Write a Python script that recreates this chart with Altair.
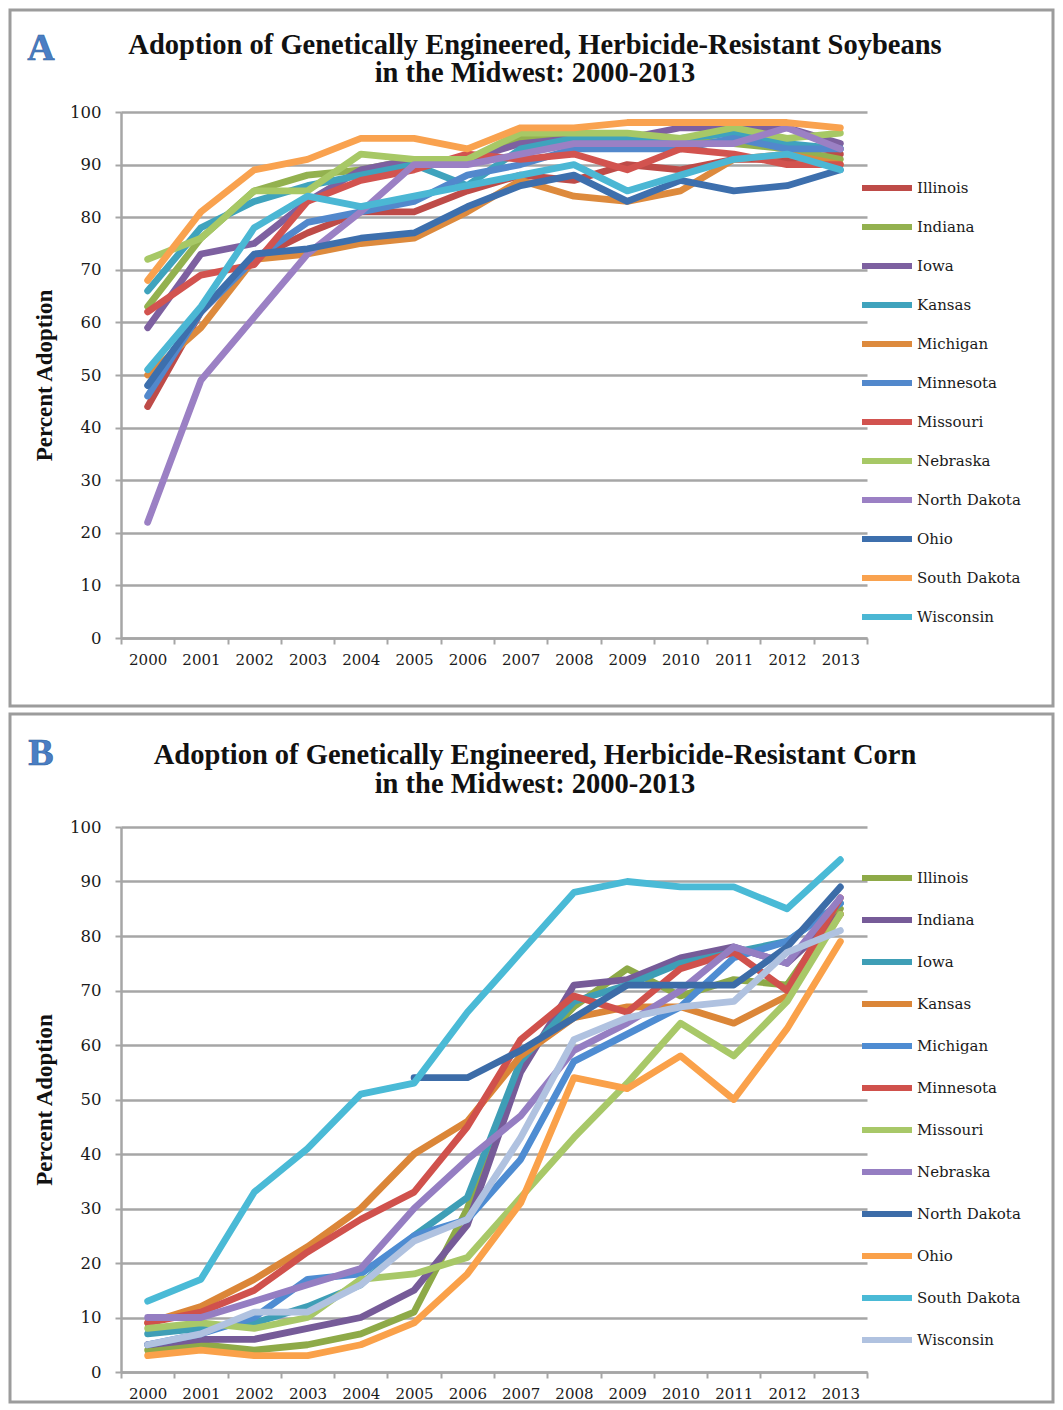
import altair as alt
import pandas as pd

YEARS = list(range(2000, 2014))
Y_TICKS = list(range(0, 101, 10))

# ---------- Panel A: soybeans ----------
STATES_A = ["Illinois", "Indiana", "Iowa", "Kansas", "Michigan", "Minnesota",
            "Missouri", "Nebraska", "North Dakota", "Ohio", "South Dakota", "Wisconsin"]
soy_illinois = [44, 62, 72, 77, 81, 81, 85, 88, 87, 90, 89, 91, 91, 92]
soy_indiana = [63, 76, 85, 88, 89, 91, 91, 95, 96, 95, 95, 94, 93, 91]
soy_iowa = [59, 73, 75, 83, 89, 91, 91, 94, 95, 95, 97, 97, 97, 94]
soy_kansas = [66, 78, 83, 86, 88, 90, 86, 93, 95, 95, 95, 96, 94, 93]
soy_michigan = [50, 59, 72, 73, 75, 76, 81, 87, 84, 83, 85, 91, 92, 90]
soy_minnesota = [46, 62, 72, 79, 81, 83, 88, 90, 93, 93, 93, 95, 93, 93]
soy_missouri = [62, 69, 71, 83, 87, 89, 92, 91, 92, 89, 93, 92, 90, 90]
soy_nebraska = [72, 76, 85, 85, 92, 91, 91, 96, 96, 96, 95, 97, 95, 96]
soy_north_dakota = [22, 49, 61, 73, 81, 90, 90, 92, 94, 94, 94, 94, 97, 93]
soy_ohio = [48, 62, 73, 74, 76, 77, 82, 86, 88, 83, 87, 85, 86, 89]
soy_south_dakota = [68, 81, 89, 91, 95, 95, 93, 97, 97, 98, 98, 98, 98, 97]
soy_wisconsin = [51, 63, 78, 84, 82, 84, 86, 88, 90, 85, 88, 91, 92, 89]
SOY = [soy_illinois, soy_indiana, soy_iowa, soy_kansas, soy_michigan, soy_minnesota,
       soy_missouri, soy_nebraska, soy_north_dakota, soy_ohio, soy_south_dakota, soy_wisconsin]
COLORS_A = ["#BE4B48", "#93B14F", "#7D60A0", "#3FA3BD", "#DD8A3D", "#5288CC",
            "#D2534F", "#A7C866", "#9B80C4", "#3D6FAD", "#F9A24F", "#4BB7D4"]

# ---------- Panel B: corn ----------
STATES_B = STATES_A
corn_illinois = [4, 5, 4, 5, 7, 11, 30, 57, 67, 74, 69, 72, 71, 85]
corn_indiana = [5, 6, 6, 8, 10, 15, 27, 55, 71, 72, 76, 78, 75, 84]
corn_iowa = [7, 8, 9, 12, 16, 25, 32, 57, 68, 71, 75, 77, 79, 86]
corn_kansas = [9, 12, 17, 23, 30, 40, 46, 58, 65, 67, 67, 64, 69, 84]
corn_michigan = [5, 7, 10, 17, 18, 25, 28, 39, 57, 62, 67, 76, 79, 86]
corn_minnesota = [9, 11, 15, 22, 28, 33, 45, 61, 69, 66, 74, 77, 70, 87]
corn_missouri = [8, 9, 8, 10, 17, 18, 21, 32, 43, 53, 64, 58, 68, 84]
corn_nebraska = [10, 10, 13, 16, 19, 30, 39, 47, 59, 64, 70, 78, 75, 87]
corn_north_dakota = [None, None, None, None, None, 54, 54, 59, 65, 71, 71, 71, 78, 89]
corn_ohio = [3, 4, 3, 3, 5, 9, 18, 31, 54, 52, 58, 50, 63, 79]
corn_south_dakota = [13, 17, 33, 41, 51, 53, 66, 77, 88, 90, 89, 89, 85, 94]
corn_wisconsin = [5, 7, 11, 11, 16, 24, 28, 43, 61, 65, 67, 68, 77, 81]
CORN = [corn_illinois, corn_indiana, corn_iowa, corn_kansas, corn_michigan, corn_minnesota,
        corn_missouri, corn_nebraska, corn_north_dakota, corn_ohio, corn_south_dakota, corn_wisconsin]
COLORS_B = ["#8EAA48", "#765B98", "#3E9EB6", "#DB8638", "#4E8CD2", "#D0514C",
            "#A8C868", "#957EC2", "#3C6CA8", "#FAA14A", "#4ABAD6", "#B0C2E0"]

TITLE_A = ["Adoption of Genetically Engineered, Herbicide-Resistant Soybeans",
           "in the Midwest: 2000-2013"]
TITLE_B = ["Adoption of Genetically Engineered, Herbicide-Resistant Corn",
           "in the Midwest: 2000-2013"]

GRID = "#A6A6A6"
SERIF = "DejaVu Serif"
TITLE_FONT = "Liberation Serif"
W = 746


def to_long(series, states):
    rows = []
    for s, vals in zip(states, series):
        for yr, v in zip(YEARS, vals):
            if v is not None:
                rows.append({"State": s, "Year": yr, "Value": v})
    return pd.DataFrame(rows)


def panel(df, states, colors, title, letter, h, top, bottom, title_y, title_lh,
          letter_y, legend_y, row_pad):
    band = W / len(YEARS)
    one = pd.DataFrame({"k": [0]})
    border = alt.Chart(one).mark_rect(
        fill="transparent", stroke="#9C9C9C", strokeWidth=3
    ).encode(x=alt.value(-111), x2=alt.value(932),
             y=alt.value(-top), y2=alt.value(h + bottom))

    lines = alt.Chart(df).mark_line(
        strokeWidth=6.8, strokeCap="round", strokeJoin="round"
    ).encode(
        x=alt.X("Year:Q",
                scale=alt.Scale(domain=[1999.5, 2013.5], nice=False, zero=False),
                axis=alt.Axis(
                    values=[y - 0.5 for y in YEARS] + [2013.5],
                    labelExpr="datum.value > 2013 ? '' : format(datum.value + 0.5, 'd')",
                    labelOffset=band / 2, labelFlush=False, labelOverlap=False,
                    labelBound=False,
                    grid=False, tickSize=6, tickColor=GRID, tickWidth=2,
                    domainColor=GRID, domainWidth=2.5,
                    labelFont=SERIF, labelFontSize=15, labelColor="#1a1a1a",
                    labelPadding=8, title=None)),
        y=alt.Y("Value:Q",
                scale=alt.Scale(domain=[0, 100], nice=False),
                axis=alt.Axis(
                    values=Y_TICKS, grid=True, gridColor=GRID, gridWidth=2.5,
                    tickSize=6, tickColor=GRID, tickWidth=2,
                    domainColor=GRID, domainWidth=2.5,
                    labelFont=SERIF, labelFontSize=16.5, labelColor="#1a1a1a",
                    labelPadding=14,
                    title="Percent Adoption", titleFont=TITLE_FONT,
                    titleFontSize=23, titleFontWeight="bold", titleColor="#111",
                    titlePadding=13)),
        color=alt.Color("State:N",
                        scale=alt.Scale(domain=states, range=colors),
                        sort=states,
                        legend=alt.Legend(
                            title=None, orient="none", legendX=738, legendY=legend_y,
                            symbolType="M-1,0H9", symbolSize=100, symbolStrokeWidth=6,
                            labelFont=SERIF, labelFontSize=15, labelColor="#1a1a1a",
                            labelOffset=42, rowPadding=row_pad, padding=0,
                            labelLimit=200)),
        order=alt.Order("Year:Q"),
    )

    title_mark = alt.Chart(one).mark_text(
        text=title, font=TITLE_FONT, fontSize=28.5, fontWeight="bold",
        color="#111", align="center", baseline="alphabetic", lineHeight=title_lh
    ).encode(x=alt.value(414), y=alt.value(title_y))

    letter_mark = alt.Chart(one).mark_text(
        text=letter, font=TITLE_FONT, fontSize=38, fontWeight="bold",
        color="#4A7EC4", stroke="#2F5E9E", strokeWidth=0.6,
        align="center", baseline="middle"
    ).encode(x=alt.value(-80), y=alt.value(letter_y))

    return alt.layer(border, lines, title_mark, letter_mark).properties(width=W, height=h)


chart_a = panel(to_long(SOY, STATES_A), STATES_A, COLORS_A, TITLE_A, "A",
                h=526, top=102, bottom=68, title_y=-58, title_lh=28,
                letter_y=-63, legend_y=68, row_pad=15)
chart_b = panel(to_long(CORN, STATES_B), STATES_B, COLORS_B, TITLE_B, "B",
                h=545, top=113, bottom=30, title_y=-63, title_lh=29,
                letter_y=-73, legend_y=43, row_pad=18)

chart = alt.vconcat(chart_a, chart_b, spacing=4).resolve_scale(
    color="independent"
).properties(padding=0, background="white").configure_view(stroke=None)

chart.save("out.html", embed_options={"renderer": "svg", "actions": False})
